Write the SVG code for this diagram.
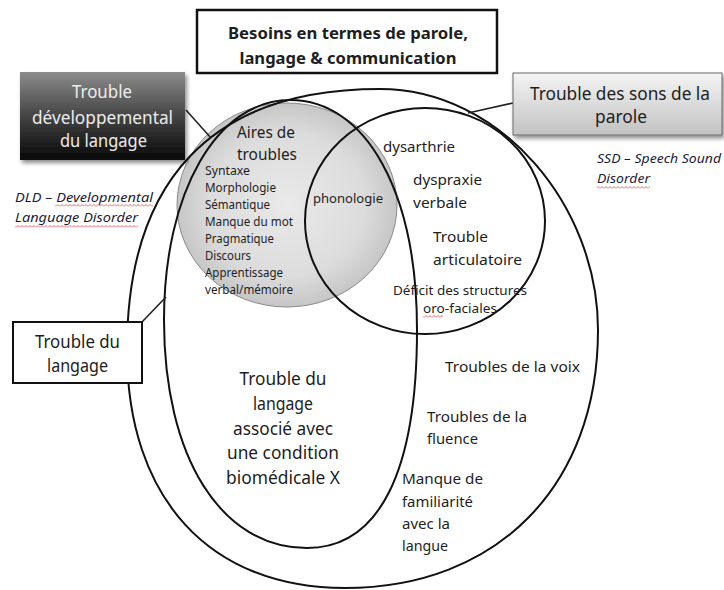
<svg xmlns="http://www.w3.org/2000/svg" width="724" height="590" viewBox="0 0 724 590">
<style>
.t{font-family:"Noto Sans","Liberation Sans",sans-serif;fill:#1e1e1e}
.c{text-anchor:middle}
.b{font-weight:bold}
.i{font-style:italic;fill:#1c1c38}
.w{fill:#ececec}
.ln{fill:none;stroke:#111;stroke-width:2}
.cn{fill:none;stroke:#222;stroke-width:1.6}
.sq{fill:url(#sq)}
</style>
<defs>
<linearGradient id="gDark" x1="0" y1="0" x2="0" y2="1">
<stop offset="0" stop-color="#8c8c8c"/>
<stop offset="0.5" stop-color="#444"/>
<stop offset="1" stop-color="#080808"/>
</linearGradient>
<linearGradient id="gLight" x1="0" y1="0" x2="0" y2="1">
<stop offset="0" stop-color="#f4f4f4"/>
<stop offset="1" stop-color="#c2c2c2"/>
</linearGradient>
<radialGradient id="gGrey" cx="0.5" cy="0.5" r="0.5">
<stop offset="0" stop-color="#e9e9e9"/>
<stop offset="0.7" stop-color="#dcdcdc"/>
<stop offset="1" stop-color="#c6c6c6"/>
</radialGradient>
<filter id="sh" x="-10%" y="-10%" width="125%" height="130%">
<feDropShadow dx="2" dy="3" stdDeviation="2" flood-color="#000" flood-opacity="0.45"/>
</filter>
<pattern id="sq" width="4" height="3" patternUnits="userSpaceOnUse">
<path d="M0,2.5 L2,0.5 L4,2.5" fill="none" stroke="#e23b3b" stroke-width="0.8"/>
</pattern>
</defs>
<rect width="724" height="590" fill="#fff"/>

<g id="node-grey-circle">
<ellipse cx="287" cy="205" rx="110" ry="102" fill="url(#gGrey)" stroke="#8a8a8a" stroke-width="1"/>
</g>

<g id="node-outer">
<path class="ln" d="M380,89 C500,89 598,205 598,330 C598,486 497,588 345,588 C210,588 127,499 127,350 C127,182 210,89 380,89 Z"/>
</g>
<g id="node-middle">
<path class="ln" d="M290,100 C366,100 417,192 417,330 C417,472 379,548 307,548 C221,548 164,457 164,320 C164,192 217,100 290,100 Z"/>
</g>
<g id="node-ssd-circle">
<ellipse class="ln" cx="425" cy="221" rx="120" ry="113"/>
</g>

<g id="connectors">
<line class="cn" x1="186" y1="110" x2="211" y2="138"/>
<line class="cn" x1="513" y1="103" x2="468" y2="113"/>
<line class="cn" x1="142" y1="322" x2="166" y2="297"/>
</g>

<g id="node-title">
<rect x="197" y="10" width="300" height="63" fill="#fff" stroke="#111" stroke-width="2.5"/>
<text class="t c b" x="348" y="39" font-size="16.5" textLength="240" lengthAdjust="spacingAndGlyphs">Besoins en termes de parole,</text>
<text class="t c b" x="348" y="64" font-size="16.5" textLength="217" lengthAdjust="spacingAndGlyphs">langage &amp; communication</text>
</g>

<g id="node-dld">
<rect x="20" y="72" width="165" height="88" fill="url(#gDark)" filter="url(#sh)"/>
<text class="t c w" x="102" y="98" font-size="17.5" textLength="60" lengthAdjust="spacingAndGlyphs">Trouble</text>
<text class="t c w" x="102.5" y="124" font-size="17.5" textLength="141" lengthAdjust="spacingAndGlyphs">développemental</text>
<text class="t c w" x="103.5" y="147" font-size="17.5" textLength="87" lengthAdjust="spacingAndGlyphs">du langage</text>
</g>
<g id="label-dld">
<text class="t i" x="15" y="202" font-size="13" textLength="138" lengthAdjust="spacingAndGlyphs">DLD – Developmental</text>
<text class="t i" x="15" y="222" font-size="13" textLength="123" lengthAdjust="spacingAndGlyphs">Language Disorder</text>
<rect class="sq" x="55" y="204" width="98" height="3"/>
<rect class="sq" x="15" y="225" width="123" height="3"/>
</g>

<g id="node-ssd">
<rect x="513" y="73" width="209" height="62" fill="url(#gLight)" stroke="#6a6a6a" stroke-width="1" filter="url(#sh)"/>
<text class="t c" x="620" y="100" font-size="17.5" textLength="180" lengthAdjust="spacingAndGlyphs">Trouble des sons de la</text>
<text class="t c" x="621" y="123" font-size="17.5" textLength="52" lengthAdjust="spacingAndGlyphs">parole</text>
</g>
<g id="label-ssd">
<text class="t i" x="597" y="163" font-size="13" textLength="124" lengthAdjust="spacingAndGlyphs">SSD  – Speech Sound</text>
<text class="t i" x="597" y="183" font-size="13" textLength="53" lengthAdjust="spacingAndGlyphs">Disorder</text>
<rect class="sq" x="597" y="186" width="53" height="3"/>
</g>

<g id="node-tdl">
<rect x="13" y="322" width="129" height="61" fill="#fff" stroke="#111" stroke-width="2"/>
<text class="t c" x="77.5" y="348" font-size="17.5" textLength="85" lengthAdjust="spacingAndGlyphs">Trouble du</text>
<text class="t c" x="77.5" y="372" font-size="17.5" textLength="61" lengthAdjust="spacingAndGlyphs">langage</text>
</g>

<g id="text-grey">
<text class="t c" x="266" y="138" font-size="16" textLength="58" lengthAdjust="spacingAndGlyphs">Aires de</text>
<text class="t c" x="267" y="160" font-size="16" textLength="60" lengthAdjust="spacingAndGlyphs">troubles</text>
<text class="t" x="205" y="175" font-size="11.7" textLength="45" lengthAdjust="spacingAndGlyphs">Syntaxe</text>
<text class="t" x="205" y="192" font-size="11.7" textLength="71" lengthAdjust="spacingAndGlyphs">Morphologie</text>
<text class="t" x="205" y="209" font-size="11.7" textLength="65" lengthAdjust="spacingAndGlyphs">Sémantique</text>
<text class="t" x="205" y="226" font-size="11.7" textLength="88" lengthAdjust="spacingAndGlyphs">Manque du mot</text>
<text class="t" x="205" y="243" font-size="11.7" textLength="69" lengthAdjust="spacingAndGlyphs">Pragmatique</text>
<text class="t" x="205" y="260" font-size="11.7" textLength="46" lengthAdjust="spacingAndGlyphs">Discours</text>
<text class="t" x="205" y="277" font-size="11.7" textLength="78" lengthAdjust="spacingAndGlyphs">Apprentissage</text>
<text class="t" x="205" y="294" font-size="11.7" textLength="88" lengthAdjust="spacingAndGlyphs">verbal/mémoire</text>
<text class="t" x="313" y="203" font-size="13" textLength="70" lengthAdjust="spacingAndGlyphs">phonologie</text>
</g>

<g id="text-ssd">
<text class="t" x="383" y="152" font-size="15" textLength="72" lengthAdjust="spacingAndGlyphs">dysarthrie</text>
<text class="t" x="413" y="185" font-size="15" textLength="69" lengthAdjust="spacingAndGlyphs">dyspraxie</text>
<text class="t" x="413" y="208" font-size="15" textLength="54" lengthAdjust="spacingAndGlyphs">verbale</text>
<text class="t" x="433" y="242" font-size="15" textLength="55" lengthAdjust="spacingAndGlyphs">Trouble</text>
<text class="t" x="433" y="265" font-size="15" textLength="89" lengthAdjust="spacingAndGlyphs">articulatoire</text>
<text class="t c" x="460" y="295" font-size="13" textLength="134" lengthAdjust="spacingAndGlyphs">Déficit des structures</text>
<text class="t c" x="460" y="313" font-size="13" textLength="74" lengthAdjust="spacingAndGlyphs">oro-faciales</text>
<rect class="sq" x="423" y="315" width="20" height="3"/>
</g>

<g id="text-middle">
<text class="t c" x="283" y="385" font-size="17.5" textLength="87" lengthAdjust="spacingAndGlyphs">Trouble du</text>
<text class="t c" x="283" y="410" font-size="17.5" textLength="60" lengthAdjust="spacingAndGlyphs">langage</text>
<text class="t c" x="283" y="435" font-size="17.5" textLength="100" lengthAdjust="spacingAndGlyphs">associé avec</text>
<text class="t c" x="283" y="459" font-size="17.5" textLength="112" lengthAdjust="spacingAndGlyphs">une condition</text>
<text class="t c" x="283" y="484" font-size="17.5" textLength="114" lengthAdjust="spacingAndGlyphs">biomédicale X</text>
</g>

<g id="text-outer">
<text class="t" x="445" y="372" font-size="15" textLength="135" lengthAdjust="spacingAndGlyphs">Troubles de la voix</text>
<text class="t" x="427" y="422" font-size="15" textLength="100" lengthAdjust="spacingAndGlyphs">Troubles de la</text>
<text class="t" x="427" y="444" font-size="15" textLength="51" lengthAdjust="spacingAndGlyphs">fluence</text>
<text class="t" x="402" y="484" font-size="15" textLength="81" lengthAdjust="spacingAndGlyphs">Manque de</text>
<text class="t" x="402" y="507" font-size="15" textLength="71" lengthAdjust="spacingAndGlyphs">familiarité</text>
<text class="t" x="402" y="529" font-size="15" textLength="48" lengthAdjust="spacingAndGlyphs">avec la</text>
<text class="t" x="402" y="551" font-size="15" textLength="46" lengthAdjust="spacingAndGlyphs">langue</text>
</g>
</svg>
